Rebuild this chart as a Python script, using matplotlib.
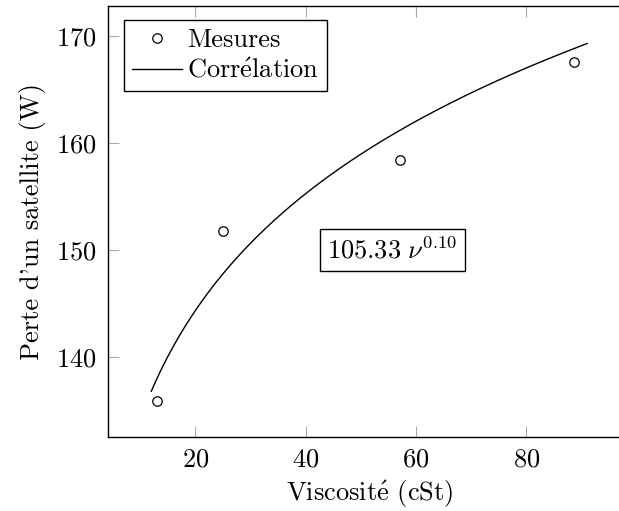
import numpy as np
import matplotlib
matplotlib.use("Agg")
import matplotlib.pyplot as plt

plt.rcParams['font.family'] = ['cmr10', 'DejaVu Serif']
plt.rcParams['mathtext.fontset'] = 'cm'
plt.rcParams['axes.formatter.use_mathtext'] = True

# measured points
visc = [13.0, 25.0, 57.0, 88.6]
perte = [135.9, 151.8, 158.4, 167.6]

# correlation  P = a * nu^b
coef_a = 105.33
coef_b = 0.1052
nu_min, nu_max = 12, 91

xticks = [20, 40, 60, 80]
yticks = [140, 150, 160, 170]

nu = np.linspace(nu_min, nu_max, 200)
fit = coef_a * nu ** coef_b

FS = 19

fig = plt.figure(figsize=(6.19, 5.11), dpi=100)
ax = fig.add_axes([0.174, 0.1454, 0.845, 0.8429])

ax.plot(visc, perte, 'o', mfc='white', mec='black', ms=6.8, mew=0.9, label='Mesures')
ax.plot(nu, fit, color='black', lw=1.0, label=r'Corr$\mathrm{\acute{e}}$lation')

ax.set_xlim(4.1, 98.9)
ax.set_ylim(132.55, 172.8)
ax.set_xticks(xticks)
ax.set_yticks(yticks)

ax.tick_params(direction='in', length=8, width=0.8, color='#aaaaaa',
               top=True, right=True, labelsize=FS, pad=8)
for s in ax.spines.values():
    s.set_linewidth(1.0)
ax.spines['right'].set_visible(False)  # cut off in the original

ax.set_xlabel(r'Viscosit$\mathrm{\acute{e}}$ (cSt)', fontsize=FS, labelpad=5)
ax.set_ylabel("Perte d'un satellite (W)", fontsize=FS, labelpad=7)

ax.text(55.7, 150, r'$105.33\ \nu^{0.10}$', fontsize=FS, ha='center', va='center',
        bbox=dict(boxstyle='square,pad=0.3', fc='white', ec='black', lw=1.0))

leg = ax.legend(loc='upper left', bbox_to_anchor=(0.031, 0.967), fontsize=FS,
                fancybox=False, framealpha=1, edgecolor='black',
                handlelength=1.9, handletextpad=0.2, borderpad=0.3,
                labelspacing=0.25, borderaxespad=0)
leg.get_frame().set_linewidth(1.0)

fig.savefig('out.png', dpi=100)
